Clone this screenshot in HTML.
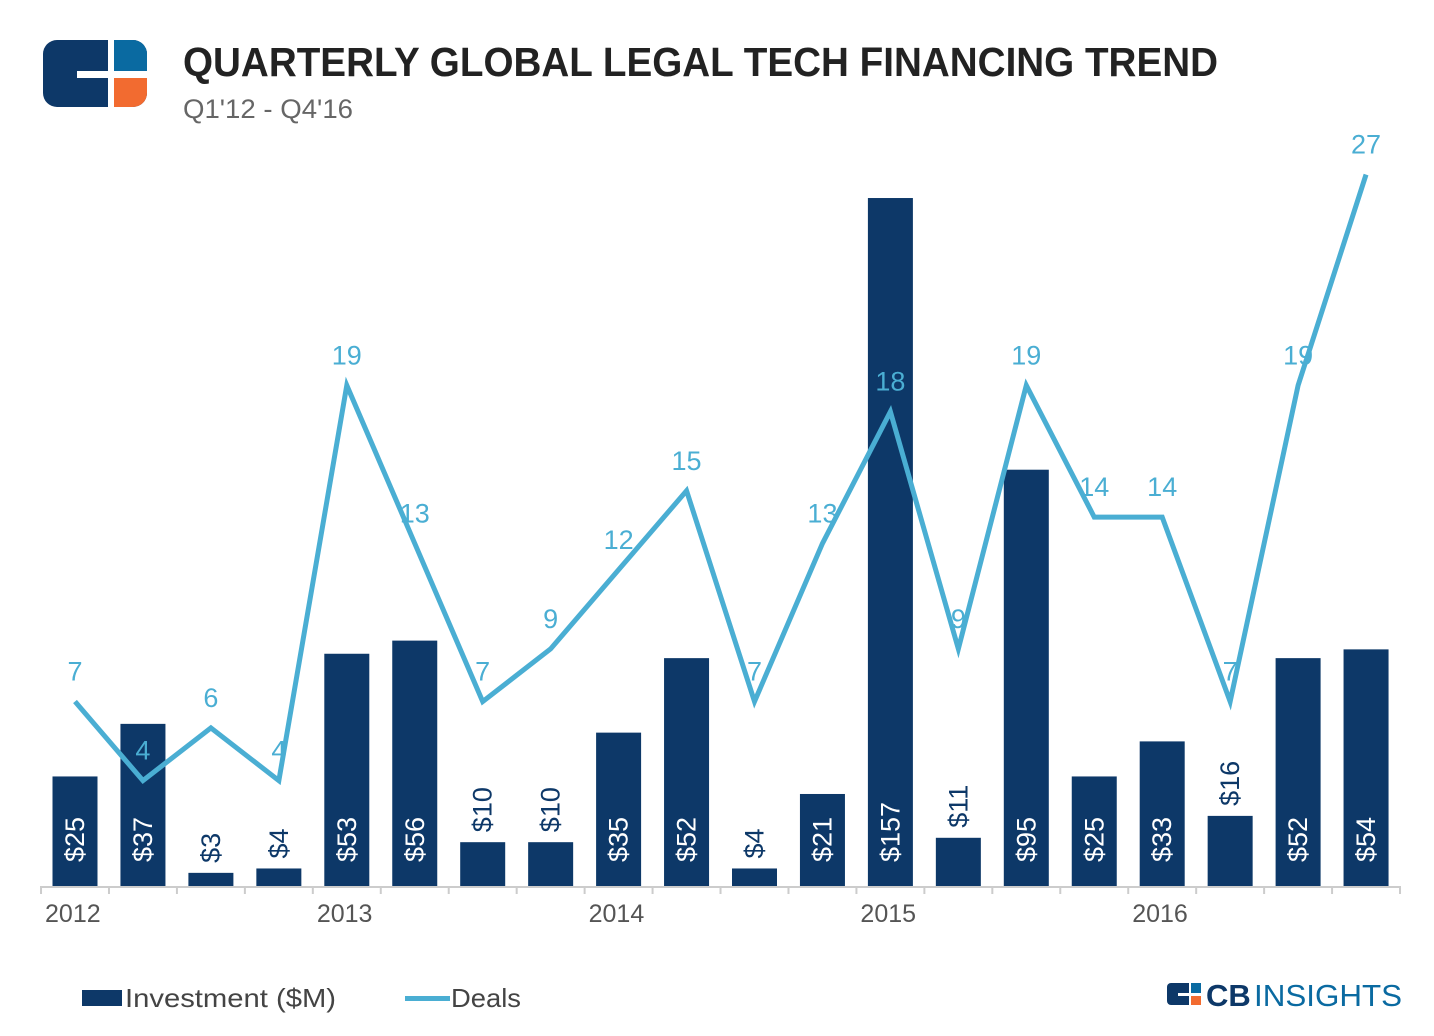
<!DOCTYPE html>
<html><head><meta charset="utf-8"><style>
body{margin:0;background:#fff;width:1434px;height:1031px;overflow:hidden;font-family:"Liberation Sans",sans-serif}
svg text{font-family:"Liberation Sans",sans-serif}
</style></head><body>
<svg width="1434" height="1031">
<g>
<rect x="43" y="40" width="104" height="67" rx="14" fill="#0d3868"/>
<path d="M113 40h20a14 14 0 0 1 14 14v18h-34z" fill="#0a6aa1"/>
<path d="M113 76h34v17a14 14 0 0 1-14 14h-20z" fill="#f26b30"/>
<rect x="77" y="71" width="70" height="7" fill="#fff"/>
<rect x="108" y="40" width="6" height="67" fill="#fff"/>
</g>
<text x="183" y="76" font-size="41" font-weight="bold" fill="#222" textLength="1035" lengthAdjust="spacingAndGlyphs">QUARTERLY GLOBAL LEGAL TECH FINANCING TREND</text>
<text x="183" y="118" font-size="27" fill="#666" textLength="170" lengthAdjust="spacingAndGlyphs">Q1'12 - Q4'16</text>
<g id="plot"></g>
<g>
<rect x="82" y="990" width="40" height="16" fill="#0d3868"/>
<text x="125" y="1007" font-size="26" fill="#444" textLength="211" lengthAdjust="spacingAndGlyphs">Investment ($M)</text>
<rect x="405" y="996" width="45" height="5" fill="#4aaed3"/>
<text x="451" y="1007" font-size="26" fill="#444" textLength="70" lengthAdjust="spacingAndGlyphs">Deals</text>
</g>
<g>
<rect x="1167" y="983" width="34" height="22" rx="4" fill="#0d3868"/>
<rect x="1191" y="983" width="10" height="10" fill="#0a6aa1"/>
<rect x="1191" y="996" width="10" height="9" fill="#f26b30"/>
<rect x="1178" y="993" width="23" height="3" fill="#fff"/>
<rect x="1189" y="983" width="2" height="22" fill="#fff"/>
<text x="1206" y="1006" font-size="31" font-weight="bold" fill="#0d3868">CB</text>
<text x="1254" y="1006" font-size="31" fill="#0a6aa1" textLength="148" lengthAdjust="spacingAndGlyphs">INSIGHTS</text>
</g>
</svg>
<script>
const quarters=["Q1'12","Q2'12","Q3'12","Q4'12","Q1'13","Q2'13","Q3'13","Q4'13","Q1'14","Q2'14","Q3'14","Q4'14","Q1'15","Q2'15","Q3'15","Q4'15","Q1'16","Q2'16","Q3'16","Q4'16"];
const investment=[25,37,3,4,53,56,10,10,35,52,4,21,157,11,95,25,33,16,52,54];
const deals=[7,4,6,4,19,13,7,9,12,15,7,13,18,9,19,14,14,7,19,27];
const years=["2012","2013","2014","2015","2016"];
const NS="http://www.w3.org/2000/svg";
const g=document.getElementById('plot');
const base=886, step=67.95, x0=75, bw=45;
const xq=i=>x0+i*step;
const yInv=v=>base-v*4.382;
const yDeal=v=>base-v*26.35;
function mk(t,a){const e=document.createElementNS(NS,t);for(const k in a)e.setAttribute(k,a[k]);g.appendChild(e);return e;}
investment.forEach((v,i)=>{
 const r=mk('rect',{x:xq(i)-bw/2,y:yInv(v),width:bw,height:base-yInv(v),fill:'#0d3868'});
 
 
});
const ax=mk('line',{x1:40,y1:887,x2:1401,y2:887,stroke:'#ccc','stroke-width':2});


for(let i=0;i<=20;i++){const t=mk('line',{x1:x0-step/2+i*step,y1:887,x2:x0-step/2+i*step,y2:894,stroke:'#ccc','stroke-width':2});

}
years.forEach((y,k)=>{const t=mk('text',{x:x0-step/2+k*4*step+4,y:922,'font-size':25,fill:'#555'});t.textContent=y;

});
const pl=mk('polyline',{points:deals.map((d,i)=>xq(i)+','+yDeal(d)).join(' '),fill:'none',stroke:'#4aaed3','stroke-width':5,'stroke-linejoin':'miter'});


investment.forEach((v,i)=>{
 const top=yInv(v);const inside=(base-top)>80;const sy=inside?862:top-10;
 const t=mk('text',{x:xq(i),y:sy,'font-size':27,fill:inside?'#fff':'#0d3868','text-anchor':'start','dominant-baseline':'central',transform:`rotate(-90 ${xq(i)} ${sy})`});
 t.textContent='$'+v;
 
 
});
deals.forEach((d,i)=>{
 const t=mk('text',{x:xq(i),y:yDeal(d)-21,'font-size':27,fill:'#4aaed3','text-anchor':'middle'});
 t.textContent=d;
 
 
});
</script>
</body></html>
